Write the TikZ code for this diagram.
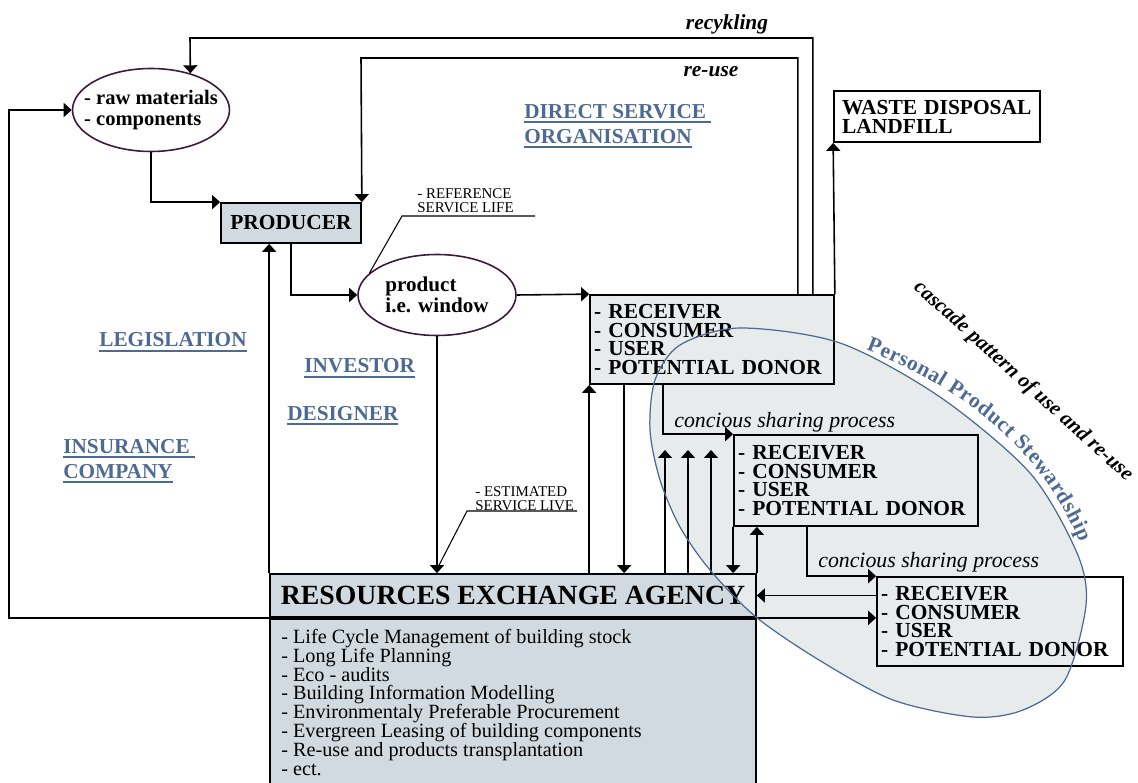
\documentclass[tikz,border=0pt]{standalone}
\usepackage{fontspec}
\setmainfont{Liberation Serif}
\usetikzlibrary{shapes.geometric, arrows.meta, positioning, calc, decorations.text, backgrounds}
\definecolor{roleblue}{RGB}{77,106,148}
\definecolor{agencygrey}{RGB}{209,218,224}
\definecolor{receivergrey}{RGB}{231,235,235}
\definecolor{ovalpurple}{RGB}{60,25,60}
\newcommand{\roleul}[1]{\leavevmode\vtop{\hbox{#1}\kern1.4pt\hrule height 1.1pt}}
\newcommand{\boxfont}{\fontsize{12.2}{10.8}\selectfont\bfseries}

\begin{document}
\begin{tikzpicture}[x=0.02cm, y=-0.02cm, >={Triangle[length=1.6mm,width=2.8mm]},
    arr/.style={->, line width=0.9pt},
    box/.style={rectangle, draw, line width=1pt, inner sep=0pt},
    oval/.style={ellipse, draw=ovalpurple, line width=0.9pt, inner sep=0pt},
    ovaltext/.style={inner sep=0pt, align=left},
    receiver/.style={box, minimum width=4.88cm, minimum height=1.78cm, text width=4.72cm, inner xsep=0.08cm, align=left, font=\boxfont},
    role/.style={text=roleblue, inner sep=0pt, font=\fontsize{12.1}{14.2}\selectfont\bfseries},
    flow/.style={inner sep=0pt, font=\fontsize{12.2}{14}\selectfont\bfseries\itshape},
    sharing/.style={inner sep=0pt, anchor=base west, font=\fontsize{12.4}{14}\selectfont\itshape},
    note/.style={inner sep=0pt, anchor=north west, align=left, font=\fontsize{8.5}{8.2}\selectfont}]
    \useasboundingbox (0,0) rectangle (1138,783);

    % stewardship area
    \path[save path=\ppsoutline] plot[smooth cycle] coordinates {(740,328) (840,343) (940,397) (1030,473) (1077,553) (1086,605) (1065,680) (1023,710) (973,717) (893,700) (819,660) (756,617) (710,570) (680,527) (660,480) (650,430) (655,380) (680,345)};

    % actors
    \node[oval, minimum width=3.14cm, minimum height=1.66cm] (raw) at (151,110) {};
    \node[ovaltext, font=\fontsize{11.7}{11.9}\selectfont\bfseries] (rawtext) at (raw.center) {- raw materials\\- components};
    \node[box, fill=agencygrey, minimum width=2.8cm, minimum height=0.8cm, font=\fontsize{12.2}{14}\selectfont\bfseries] (producer) at (291,223) {PRODUCER};
    \node[oval, minimum width=3.16cm, minimum height=1.62cm] (product) at (437,295) {};
    \node[ovaltext, font=\fontsize{12}{10.2}\selectfont\bfseries] (producttext) at (product.center) {product\\i.e. window};
    \node[box, minimum width=4.12cm, minimum height=1.02cm, text width=3.8cm, inner xsep=0.16cm, align=left, font=\boxfont] (waste) at (937,116.5) {WASTE DISPOSAL\\LANDFILL};
    \node[receiver, fill=receivergrey] (rec1) at (712,339.5) {- RECEIVER\\- CONSUMER\\- USER\\- POTENTIAL DONOR};
    \node[receiver, minimum height=1.82cm] (rec2) at (856,480.5) {- RECEIVER\\- CONSUMER\\- USER\\- POTENTIAL DONOR};
    \node[receiver, minimum width=4.92cm, text width=4.76cm] (rec3) at (1000,621.5) {- RECEIVER\\- CONSUMER\\- USER\\- POTENTIAL DONOR};
    \node[box, minimum width=9.72cm, minimum height=0.86cm, font=\fontsize{15.8}{18}\selectfont\bfseries] (rea) at (513,595.5) {RESOURCES EXCHANGE AGENCY};
    \node[box, anchor=north, minimum width=9.72cm, minimum height=3.5cm] (reabody) at (rea.south) {};
    \node[anchor=north west, inner sep=0pt, align=left, font=\fontsize{11.5}{10.7}\selectfont] (reaitems) at (281,629) {- Life Cycle Management of building stock\\- Long Life Planning\\- Eco - audits\\- Building Information Modelling\\- Environmentaly Preferable Procurement\\- Evergreen Leasing of building components\\- Re-use and products transplantation\\- ect.};

    \begin{pgfonlayer}{background}
        \fill[agencygrey] (rea.north west) rectangle (reabody.south east);
        \fill[receivergrey, use path=\ppsoutline];
    \end{pgfonlayer}

    % roles
    \node[role, anchor=north west, align=left] (dso) at (524,104) {\roleul{DIRECT SERVICE\ }\\\roleul{ORGANISATION}};
    \node[role, anchor=base west] (legis) at (99,347) {\roleul{LEGISLATION}};
    \node[role, anchor=base west] (investor) at (304,373) {\roleul{INVESTOR}};
    \node[role, anchor=base west] (designer) at (287,420) {\roleul{DESIGNER}};
    \node[role, anchor=north west, align=left] (insurance) at (63,439) {\roleul{INSURANCE\ }\\\roleul{COMPANY}};

    % flow labels
    \node[flow, anchor=base] (recy) at (727,30) {recykling};
    \node[flow, anchor=base] (reuse) at (711,77) {re-use};
    \node[sharing] (share1) at (674,427) {concious sharing process};
    \node[sharing] (share2) at (818,567) {concious sharing process};
    \node[note] (refnote) at (417,188) {- REFERENCE\\SERVICE LIFE};
    \node[note] (estnote) at (475,486) {- ESTIMATED\\SERVICE LIVE};
    \path[decorate, decoration={text along path,
        text={|\fontsize{11.9}{14}\selectfont\bfseries\itshape|cascade pattern of use and re-use}}]
        (913,289) -- (1136,490);
    \path[decorate, decoration={text along path, text color=roleblue, text align=fit to path,
        text={|\fontsize{12.2}{14}\selectfont\bfseries|Personal Product Stewardship}}]
        (866,350) .. controls (965,388) and (1045,455) .. (1080,542);

    % material loops
    \coordinate (recyc) at (190,38);
    \coordinate (reusec) at (361,58);
    \draw[arr] ([xshift=-0.44cm]rec1.north east) |- (recyc) -- (raw.43);
    \draw[arr] ([xshift=-0.74cm]rec1.north east) |- (reusec) -- (producer.north east);
    \draw[arr] (rec1.north east) -- (waste.south west);
    \draw[arr] (rea.south west) -- ++(-260,0) |- (raw.west);

    % main chain
    \draw[arr] (raw.south) |- (producer.north west);
    \draw[arr] (producer.south) |- (product.west);
    \draw[arr] (product.east) -- (rec1.north west);
    \draw[arr] (product.south) -- (product.south |- rea.north);
    \draw[arr] (rea.north west) -- (rea.north west |- producer.south);

    % service life notes
    \coordinate (refline) at (402,216);
    \coordinate (estline) at (467,511);
    \draw[line width=0.6pt] (product.162) -- (refline) -- ++(133,0);
    \draw[line width=0.6pt] ($(estline)+(110,0)$) -- (estline) -- ($(product.south |- rea.north)+(0,-4)$);

    % agency and receivers
    \draw[arr] (rec1.south west |- rea.north) -- (rec1.south west);
    \draw[arr] ([xshift=0.7cm]rec1.south west) -- ([xshift=0.7cm]rec1.south west |- rea.north);
    \draw[arr] ([xshift=1.48cm]rec1.south west) |- (rec2.north west);
    \foreach \x in {665,688,711}
        \draw[arr] (\x,0 |- rea.north) -- (\x,450);
    \draw[arr] (rec2.south west) -- (rec2.south west |- rea.north);
    \draw[arr] (rea.north east) -- (rea.north east |- rec2.south);
    \draw[arr] ([xshift=1.48cm]rec2.south west) |- (rec3.north west);
    \draw[arr] (rea.east -| rec3.west) -- (rea.east);
    \draw[arr] (rea.south east) -- (rea.south east -| rec3.west);

    \draw[roleblue, line width=0.7pt, use path=\ppsoutline];
\end{tikzpicture}
\end{document}
